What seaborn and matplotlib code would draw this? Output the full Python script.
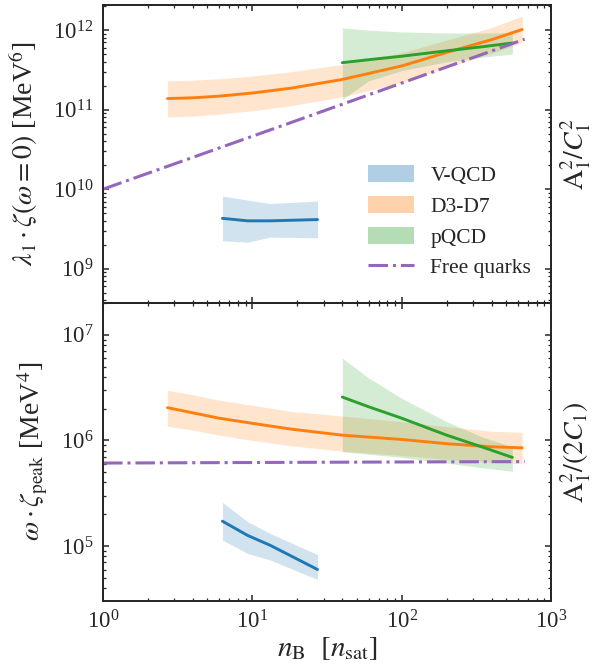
import matplotlib
matplotlib.use("Agg")
import matplotlib.pyplot as plt
import seaborn as sns
import pandas as pd
from matplotlib.patches import Patch
from matplotlib.lines import Line2D

# ---- data (top: lambda_1 * zeta(omega=0), bottom: omega * zeta_peak)
# D3-D7
d3_n = [2.7, 4, 6, 10, 18, 40, 100, 200, 400, 640]
d3_top = [1.38e11, 1.41e11, 1.48e11, 1.62e11, 1.86e11, 2.40e11, 3.55e11, 5.25e11, 7.6e11, 1.02e12]
d3_top_hi = [2.3e11, 2.35e11, 2.45e11, 2.65e11, 3.0e11, 3.7e11, 5.2e11, 7.5e11, 1.08e12, 1.5e12]
d3_top_lo = [8.1e10, 8.3e10, 8.8e10, 9.7e10, 1.12e11, 1.45e11, 2.2e11, 3.4e11, 5.1e11, 7.0e11]
d3_bot = [2.04e6, 1.82e6, 1.62e6, 1.45e6, 1.28e6, 1.12e6, 1.02e6, 9.3e5, 8.7e5, 8.5e5]
d3_bot_hi = [2.98e6, 2.7e6, 2.4e6, 2.15e6, 1.88e6, 1.7e6, 1.5e6, 1.35e6, 1.22e6, 1.19e6]
d3_bot_lo = [1.36e6, 1.25e6, 1.12e6, 1.0e6, 8.9e5, 7.9e5, 7.2e5, 6.6e5, 6.2e5, 6.0e5]

# pQCD
pq_n = [40, 60, 100, 200, 350, 550]
pq_top = [3.9e11, 4.25e11, 4.7e11, 5.5e11, 6.2e11, 6.9e11]
pq_top_hi = [1.07e12, 1.0e12, 9.5e11, 9.2e11, 9.2e11, 9.3e11]
pq_top_lo = [1.35e11, 2.3e11, 3.1e11, 4.0e11, 4.6e11, 5.0e11]
pq_bot = [2.57e6, 2.08e6, 1.62e6, 1.12e6, 8.6e5, 6.9e5]
pq_bot_hi = [6.0e6, 3.9e6, 2.5e6, 1.5e6, 1.07e6, 8.7e5]
pq_bot_lo = [7.8e5, 7.4e5, 6.9e5, 6.1e5, 5.5e5, 5.1e5]

# V-QCD
vq_n = [6.3, 9.3, 13.1, 27.3]
vq_top = [4.3e9, 4.0e9, 4.0e9, 4.15e9]
vq_top_hi = [8.2e9, 7.3e9, 6.6e9, 7.1e9]
vq_top_lo = [2.25e9, 2.15e9, 2.5e9, 2.45e9]
vq_bot = [1.72e5, 1.26e5, 1.02e5, 6.0e4]
vq_bot_hi = [2.59e5, 1.7e5, 1.32e5, 8.3e4]
vq_bot_lo = [1.14e5, 8.5e4, 7.4e4, 4.84e4]

# Free quarks
fq_n = [1, 21, 665]
fq_top = [1.0e10, 7.6e10, 7.7e11]
fq_bot = [6.1e5, 6.2e5, 6.3e5]

colors = {"V-QCD": "#1f77b4", "D3-D7": "#ff7f0e", "pQCD": "#2ca02c", "Free quarks": "#9467bd"}

sns.set_style("ticks", {"xtick.direction": "in", "ytick.direction": "in"})
plt.rcParams["font.family"] = ["Liberation Serif", "DejaVu Serif"]
plt.rcParams["mathtext.fontset"] = "stix"
plt.rcParams["axes.linewidth"] = 1.3
plt.rcParams["xtick.major.size"] = 4
plt.rcParams["ytick.major.size"] = 4
plt.rcParams["xtick.minor.size"] = 2.5
plt.rcParams["ytick.minor.size"] = 2.5
plt.rcParams["xtick.major.width"] = 1.1
plt.rcParams["ytick.major.width"] = 1.1
plt.rcParams["xtick.minor.width"] = 0.9
plt.rcParams["ytick.minor.width"] = 0.9

fig, axes = plt.subplots(2, 1, figsize=(5.92, 6.70), dpi=100, sharex=True)
fig.subplots_adjust(left=0.174, right=0.931, top=0.9925, bottom=0.1034, hspace=0)

panels = [
    (axes[0], [(vq_n, vq_top, vq_top_lo, vq_top_hi, "V-QCD"),
               (d3_n, d3_top, d3_top_lo, d3_top_hi, "D3-D7"),
               (pq_n, pq_top, pq_top_lo, pq_top_hi, "pQCD")], fq_top),
    (axes[1], [(vq_n, vq_bot, vq_bot_lo, vq_bot_hi, "V-QCD"),
               (d3_n, d3_bot, d3_bot_lo, d3_bot_hi, "D3-D7"),
               (pq_n, pq_bot, pq_bot_lo, pq_bot_hi, "pQCD")], fq_bot),
]

for ax, series, fq in panels:
    for n, mid, lo, hi, name in series:
        ax.fill_between(n, lo, hi, color=colors[name], alpha=0.2, lw=0)
        df = pd.DataFrame({"n": n, "val": mid})
        sns.lineplot(data=df, x="n", y="val", color=colors[name], lw=2.1, ax=ax, errorbar=None)
    df = pd.DataFrame({"n": fq_n, "val": fq})
    sns.lineplot(data=df, x="n", y="val", color=colors["Free quarks"], lw=2.2, ls="-.", ax=ax, errorbar=None)
    ax.set_xscale("log")
    ax.set_yscale("log")
    ax.set_xlim(1, 1000)
    ax.tick_params(which="both", top=True, right=True, direction="in", labelsize=16.5, pad=7)

axes[0].set_ylim(3.72e8, 2.07e12)
axes[1].set_ylim(3.04e4, 2.0e7)

axes[0].set_xlabel("")
axes[0].set_ylabel(r"$\lambda_1\cdot\zeta(\omega=0)$ [MeV$^6$]", fontsize=20, labelpad=9)
axes[1].set_ylabel(r"$\omega\cdot\zeta_\mathrm{peak}$ [MeV$^4$]", fontsize=20, labelpad=8)
axes[1].set_xlabel(r"$n_\mathrm{B}\ \ [n_\mathrm{sat}]$", fontsize=21, labelpad=1)

for ax, lab in [(axes[0], r"$\mathrm{A}_1^2/C_1^2$"), (axes[1], r"$\mathrm{A}_1^2/(2C_1)$")]:
    tw = ax.twinx()
    tw.set_yscale("log")
    tw.set_ylim(ax.get_ylim())
    tw.tick_params(which="both", direction="in", labelright=False)
    tw.set_ylabel(lab, fontsize=20, labelpad=5)

handles = [Patch(facecolor=colors["V-QCD"], alpha=0.35, lw=0),
           Patch(facecolor=colors["D3-D7"], alpha=0.35, lw=0),
           Patch(facecolor=colors["pQCD"], alpha=0.35, lw=0),
           Line2D([], [], color=colors["Free quarks"], lw=2.2, ls="-.")]
axes[0].legend(handles, ["V-QCD", "D3-D7", "pQCD", "Free quarks"], loc="upper left",
               bbox_to_anchor=(0.591, 0.462), frameon=False, fontsize=15.5, borderpad=0,
               borderaxespad=0, handlelength=2.15, handleheight=0.85, handletextpad=0.75,
               labelspacing=0.45)

plt.savefig("out.png", dpi=100)
